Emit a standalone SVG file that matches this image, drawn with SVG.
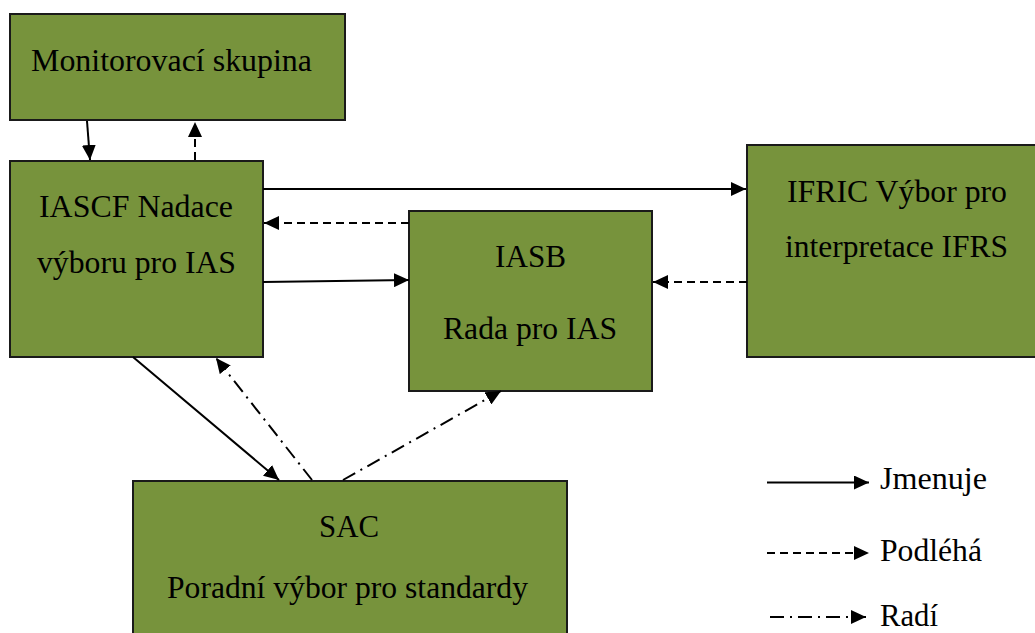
<svg xmlns="http://www.w3.org/2000/svg" width="1035" height="633" viewBox="0 0 1035 633">
  <style>
    .box { fill: #77933C; stroke: #1a1a1a; stroke-width: 2; }
    .t { font-family: "Liberation Serif", "DejaVu Serif", "Noto Serif", serif; font-size: 31px; fill: #000; }
    .m { text-anchor: middle; }
    .c { fill: none; stroke: #000; stroke-width: 2; }
    .dash { stroke-dasharray: 8 5; }
    .dd { stroke-dasharray: 14 6 2 6; }
  </style>
  <defs>
    <marker id="ah" markerWidth="15" markerHeight="14" refX="15" refY="7" orient="auto" markerUnits="userSpaceOnUse">
      <path d="M0,0 L15,7 L0,14 z" fill="#000"/>
    </marker>
  </defs>
  <rect width="1035" height="633" fill="#fff"/>

  <g id="monitor">
    <rect class="box" x="10" y="14" width="335" height="106"/>
    <text class="t" x="31" y="71" textLength="281" lengthAdjust="spacingAndGlyphs">Monitorovací skupina</text>
  </g>
  <g id="iascf">
    <rect class="box" x="10" y="161" width="253" height="196"/>
    <text class="t m" x="136" y="217" textLength="194" lengthAdjust="spacingAndGlyphs">IASCF Nadace</text>
    <text class="t m" x="136.5" y="273" textLength="199" lengthAdjust="spacingAndGlyphs">výboru pro IAS</text>
  </g>
  <g id="iasb">
    <rect class="box" x="409" y="211" width="243" height="180"/>
    <text class="t m" x="530.5" y="267" textLength="71" lengthAdjust="spacingAndGlyphs">IASB</text>
    <text class="t m" x="530" y="339" textLength="174" lengthAdjust="spacingAndGlyphs">Rada pro IAS</text>
  </g>
  <g id="ifric">
    <rect class="box" x="747" y="145" width="300" height="212"/>
    <text class="t m" x="897" y="202" textLength="220" lengthAdjust="spacingAndGlyphs">IFRIC Výbor pro</text>
    <text class="t m" x="896.5" y="257" textLength="223" lengthAdjust="spacingAndGlyphs">interpretace IFRS</text>
  </g>
  <g id="sac">
    <rect class="box" x="133" y="481" width="434" height="170"/>
    <text class="t m" x="349" y="537" textLength="60" lengthAdjust="spacingAndGlyphs">SAC</text>
    <text class="t m" x="347.5" y="598" textLength="361" lengthAdjust="spacingAndGlyphs">Poradní výbor pro standardy</text>
  </g>

  <g id="connectors">
    <path class="c" d="M87,121 L90,160" marker-end="url(#ah)"/>
    <path class="c dash" d="M195,160 L195,122" marker-end="url(#ah)"/>
    <path class="c" d="M263,189 L746,189" marker-end="url(#ah)"/>
    <path class="c dash" d="M409,223 L264,223" marker-end="url(#ah)"/>
    <path class="c" d="M263,282 L409,280" marker-end="url(#ah)"/>
    <path class="c dash" d="M747,282 L653,282" marker-end="url(#ah)"/>
    <path class="c" d="M133,357 L279,480" marker-end="url(#ah)"/>
    <path class="c dd" d="M312,480 L216,358" marker-end="url(#ah)"/>
    <path class="c dd" d="M343,480 L501,391" marker-end="url(#ah)"/>
  </g>

  <g id="legend">
    <path class="c" d="M767,482.5 L869,482.5" marker-end="url(#ah)"/>
    <text class="t" x="880" y="489" textLength="107" lengthAdjust="spacingAndGlyphs">Jmenuje</text>
    <path class="c dash" d="M767,553 L869,553" marker-end="url(#ah)"/>
    <text class="t" x="880" y="561" textLength="102" lengthAdjust="spacingAndGlyphs">Podléhá</text>
    <path class="c dd" d="M770,617 L866,617" marker-end="url(#ah)"/>
    <text class="t" x="880" y="626" textLength="58" lengthAdjust="spacingAndGlyphs">Radí</text>
  </g>
</svg>
